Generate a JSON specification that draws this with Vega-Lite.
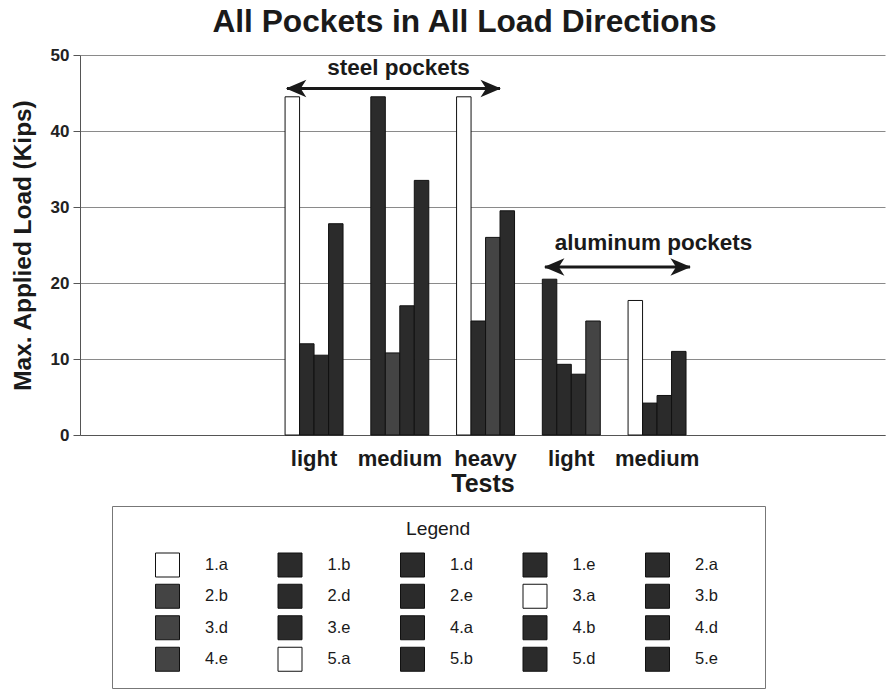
{
  "$schema": "https://vega.github.io/schema/vega-lite/v6.json",
  "width": 805,
  "height": 380,
  "autosize": {"type": "none"},
  "padding": {"left": 80, "top": 55, "right": 2, "bottom": 254},
  "background": "white",
  "config": {
    "view": {"stroke": null},
    "font": "Liberation Sans",
    "title": {"font": "Liberation Sans"},
    "axis": {"labelFont": "Liberation Sans", "titleFont": "Liberation Sans"},
    "legend": {"labelFont": "Liberation Sans", "titleFont": "Liberation Sans"}
  },
  "title": {
    "text": "All Pockets in All Load Directions",
    "fontSize": 31.7,
    "fontWeight": "bold",
    "color": "#1a1a1a",
    "anchor": "middle",
    "dx": -18,
    "offset": 7
  },
  "datasets": {
    "bars": [
      {"test": "SL", "sub": "a", "series": "1.a", "load": 44.5},
      {"test": "SL", "sub": "b", "series": "1.b", "load": 12.0},
      {"test": "SL", "sub": "d", "series": "1.d", "load": 10.5},
      {"test": "SL", "sub": "e", "series": "1.e", "load": 27.8},
      {"test": "SM", "sub": "a", "series": "2.a", "load": 44.5},
      {"test": "SM", "sub": "b", "series": "2.b", "load": 10.8},
      {"test": "SM", "sub": "d", "series": "2.d", "load": 17.0},
      {"test": "SM", "sub": "e", "series": "2.e", "load": 33.5},
      {"test": "SH", "sub": "a", "series": "3.a", "load": 44.5},
      {"test": "SH", "sub": "b", "series": "3.b", "load": 15.0},
      {"test": "SH", "sub": "d", "series": "3.d", "load": 26.0},
      {"test": "SH", "sub": "e", "series": "3.e", "load": 29.5},
      {"test": "AL", "sub": "a", "series": "4.a", "load": 20.5},
      {"test": "AL", "sub": "b", "series": "4.b", "load": 9.3},
      {"test": "AL", "sub": "d", "series": "4.d", "load": 8.0},
      {"test": "AL", "sub": "e", "series": "4.e", "load": 15.0},
      {"test": "AM", "sub": "a", "series": "5.a", "load": 17.7},
      {"test": "AM", "sub": "b", "series": "5.b", "load": 4.2},
      {"test": "AM", "sub": "d", "series": "5.d", "load": 5.2},
      {"test": "AM", "sub": "e", "series": "5.e", "load": 11.0}
    ],
    "arrows": [
      {"name": "steel", "x": 2.414, "x2": 4.898, "y": 45.6},
      {"name": "aluminum", "x": 5.423, "x2": 7.114, "y": 22.1}
    ],
    "heads": [
      {"x": 2.52, "y": 45.6, "dir": "left"},
      {"x": 4.79, "y": 45.6, "dir": "right"},
      {"x": 5.53, "y": 22.1, "dir": "left"},
      {"x": 7.005, "y": 22.1, "dir": "right"}
    ],
    "notes": [
      {"text": "steel pockets", "x": 3.715, "y": 48.3},
      {"text": "aluminum pockets", "x": 6.688, "y": 25.3}
    ]
  },
  "layer": [
    {
      "data": {"name": "bars"},
      "mark": {"type": "bar", "stroke": "#111", "strokeWidth": 1},
      "encoding": {
        "x": {
          "field": "test",
          "type": "nominal",
          "sort": null,
          "scale": {
            "domain": ["d1", "d2", "SL", "SM", "SH", "AL", "AM", "d3", "d4"],
            "paddingInner": 0.324,
            "paddingOuter": 0.356,
            "align": 0.55
          },
          "axis": {
            "title": "Tests",
            "titleFontSize": 25,
            "titleFontWeight": "bold",
            "titleColor": "#1a1a1a",
            "titlePadding": 2,
            "labelFontSize": 22,
            "labelFontWeight": "bold",
            "labelColor": "#1a1a1a",
            "labelAngle": 0,
            "labelPadding": 13,
            "ticks": false,
            "domainColor": "#555",
            "labelExpr": "datum.value == 'SL' || datum.value == 'AL' ? 'light' : datum.value == 'SM' || datum.value == 'AM' ? 'medium' : datum.value == 'SH' ? 'heavy' : ''"
          }
        },
        "xOffset": {
          "field": "sub",
          "type": "nominal",
          "scale": {"domain": ["a", "b", "d", "e"], "paddingInner": 0, "paddingOuter": 0}
        },
        "y": {
          "field": "load",
          "type": "quantitative",
          "scale": {"domain": [0, 50]},
          "axis": {
            "title": "Max. Applied Load (Kips)",
            "titleFontSize": 24.4,
            "titleFontWeight": "bold",
            "titleColor": "#1a1a1a",
            "titlePadding": 15,
            "values": [0, 10, 20, 30, 40, 50],
            "labelFontSize": 17,
            "labelFontWeight": "bold",
            "labelColor": "#222",
            "labelPadding": 4,
            "tickSize": 7,
            "tickColor": "#555",
            "domainColor": "#555",
            "grid": true,
            "gridColor": "#8a8a8a",
            "gridWidth": 1
          }
        },
        "color": {
          "field": "series",
          "type": "nominal",
          "scale": {
            "domain": ["1.a", "1.b", "1.d", "1.e", "2.a", "2.b", "2.d", "2.e", "3.a", "3.b", "3.d", "3.e", "4.a", "4.b", "4.d", "4.e", "5.a", "5.b", "5.d", "5.e"],
            "range": ["#ffffff", "#2b2b2b", "#2b2b2b", "#2b2b2b", "#2b2b2b", "#444444", "#2b2b2b", "#2b2b2b", "#ffffff", "#2b2b2b", "#444444", "#2b2b2b", "#2b2b2b", "#2b2b2b", "#2b2b2b", "#444444", "#ffffff", "#2b2b2b", "#2b2b2b", "#2b2b2b"]
          },
          "legend": {
            "title": "\u2800\u2800\u2800\u2800\u2800\u2800\u2800\u2800\u2800\u2800\u2800\u2800\u2800\u2800\u2800\u2800\u2800\u2800\u2800\u2800Legend\u2800\u2800\u2800\u2800\u2800\u2800\u2800\u2800\u2800\u2800\u2800\u2800\u2800\u2800\u2800\u2800\u2800\u2800\u2800\u2800",
            "orient": "none",
            "legendX": 32,
            "legendY": 451,
            "columns": 5,
            "direction": "horizontal",
            "titleAnchor": "start",
            "titleAlign": "left",
            "titleFontSize": 19.25,
            "titleFontWeight": "normal",
            "titleColor": "#1a1a1a",
            "titleLimit": 1000,
            "titlePadding": 13,
            "labelFontSize": 16.5,
            "labelColor": "#1a1a1a",
            "symbolType": "square",
            "symbolSize": 576,
            "symbolStrokeColor": "#111",
            "symbolStrokeWidth": 1,
            "symbolOffset": 29,
            "labelOffset": 25,
            "columnPadding": 20.5,
            "rowPadding": 2.5,
            "padding": 14,
            "strokeColor": "#777",
            "fillColor": "white"
          }
        }
      }
    },
    {
      "data": {"name": "arrows"},
      "mark": {"type": "rule", "stroke": "#1a1a1a", "strokeWidth": 3},
      "encoding": {
        "x": {"field": "x", "type": "quantitative", "scale": {"domain": [0, 9.388], "nice": false, "zero": false}, "axis": null},
        "x2": {"field": "x2"},
        "y": {"field": "y", "type": "quantitative"}
      }
    },
    {
      "data": {"name": "heads"},
      "mark": {"type": "point", "filled": true, "opacity": 1, "color": "#1a1a1a", "size": 420},
      "encoding": {
        "x": {"field": "x", "type": "quantitative", "scale": {"domain": [0, 9.388], "nice": false, "zero": false}, "axis": null},
        "y": {"field": "y", "type": "quantitative"},
        "shape": {
          "field": "dir",
          "type": "nominal",
          "scale": {"domain": ["left", "right"], "range": ["M-1,0L1,-0.85L0.45,0L1,0.85Z", "M1,0L-1,-0.85L-0.45,0L-1,0.85Z"]},
          "legend": null
        }
      }
    },
    {
      "data": {"name": "notes"},
      "mark": {"type": "text", "fontSize": 22.5, "fontWeight": "bold", "font": "Liberation Sans", "color": "#1a1a1a", "align": "center", "baseline": "middle"},
      "encoding": {
        "x": {"field": "x", "type": "quantitative", "scale": {"domain": [0, 9.388], "nice": false, "zero": false}, "axis": null},
        "y": {"field": "y", "type": "quantitative"},
        "text": {"field": "text"}
      }
    }
  ],
  "resolve": {"scale": {"x": "independent", "shape": "independent"}, "axis": {"x": "independent"}}
}
